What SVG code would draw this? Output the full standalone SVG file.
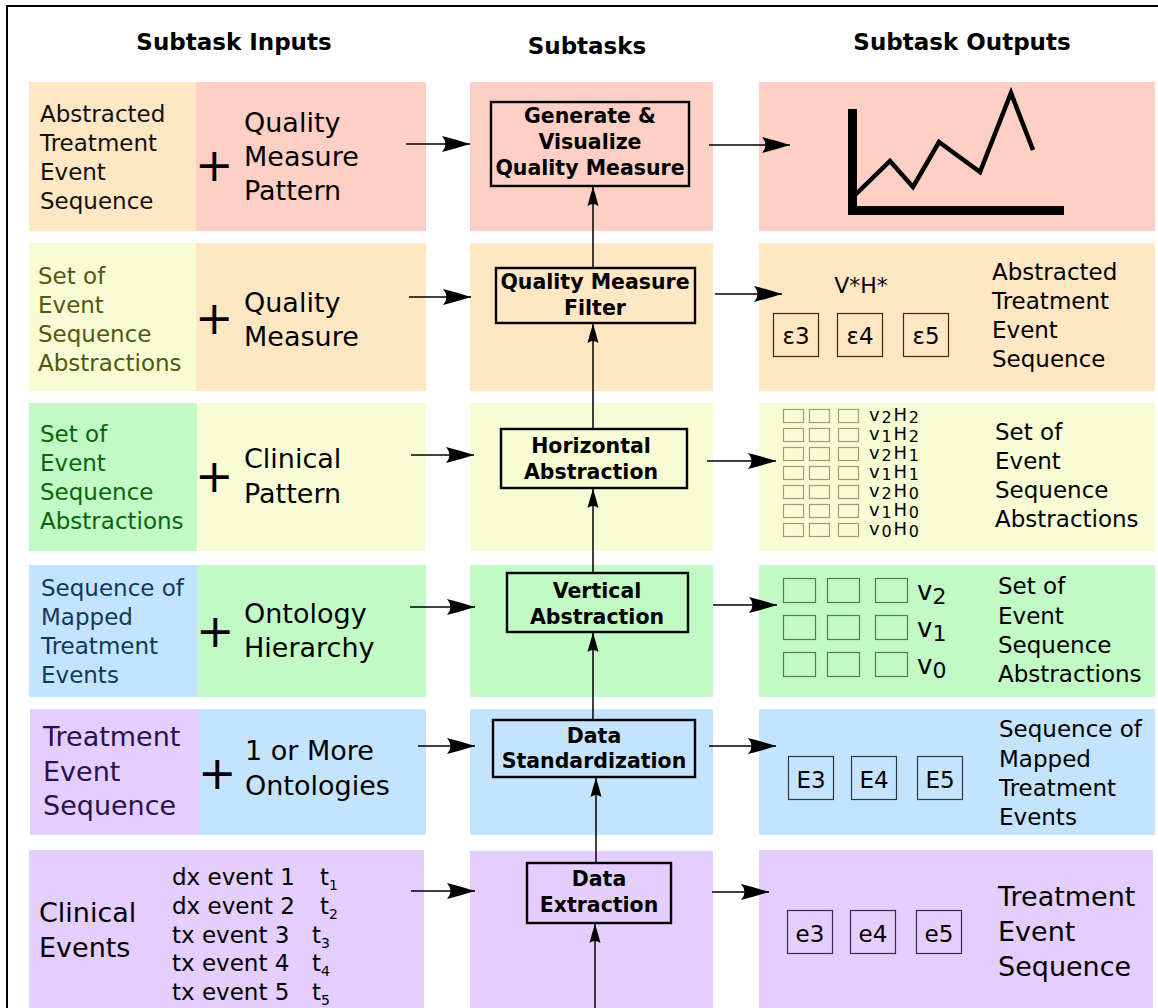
<svg xmlns="http://www.w3.org/2000/svg" width="1158" height="1008" viewBox="0 0 1158 1008">
<style>
text{font-family:"DejaVu Sans","Liberation Sans",sans-serif;}
.hd{font-size:23px;font-weight:bold;text-anchor:middle;}
.t23{font-size:23px;}
.t27{font-size:27px;}
.plus{font-size:46px;}
.st{font-size:20.5px;font-weight:bold;text-anchor:middle;}
.sbox{fill:none;stroke:#000;stroke-width:2.4;}
.conn{stroke:#000;stroke-width:1.5;fill:none;}
.salmon{fill:#fecfc4;}
.orange{fill:#ffe7c4;}
.yellow{fill:#f8fcd5;}
.green{fill:#c1fac5;}
.blue{fill:#c4e4fd;}
.purple{fill:#e3cefd;}
.ob{fill:none;stroke-width:1.2;}
.ctr{text-anchor:middle;}
.vh{font-size:18px;}
.vh tspan.s{font-size:16px;}
</style>
<defs>
<marker id="ah" markerUnits="userSpaceOnUse" markerWidth="30" markerHeight="20" viewBox="0 0 30 18" refX="28" refY="9" orient="auto">
<path d="M28,9 Q14,4.5 0,1 Q7,9 0,17 Q14,13.5 28,9 Z" fill="#000"/>
</marker>
<marker id="av" markerUnits="userSpaceOnUse" markerWidth="20" markerHeight="12" viewBox="0 0 20 12" refX="19" refY="6" orient="auto">
<path d="M19,6 Q10,3 0,0.5 Q4,6 0,11.5 Q10,9 19,6 Z" fill="#000"/>
</marker>
</defs>
<rect x="0" y="0" width="1158" height="1008" fill="#fff"/>
<rect x="7" y="6" width="1170" height="1020" fill="none" stroke="#000" stroke-width="2"/>

<g id="headers">
<text class="hd" x="234" y="50">Subtask Inputs</text>
<text class="hd" x="587" y="54">Subtasks</text>
<text class="hd" x="962" y="50">Subtask Outputs</text>
</g>

<!-- Row 1 -->
<g id="input1">
<rect class="orange" x="29" y="82" width="167" height="149"/>
<rect class="salmon" x="196" y="82" width="230" height="149"/>
<text class="t23" fill="#111">
<tspan x="40" y="122">Abstracted</tspan><tspan x="40" y="151">Treatment</tspan><tspan x="40" y="180">Event</tspan><tspan x="40" y="209">Sequence</tspan></text>
<text class="plus" x="195" y="181">+</text>
<text class="t27"><tspan x="244" y="132">Quality</tspan><tspan x="244" y="166">Measure</tspan><tspan x="244" y="200">Pattern</tspan></text>
</g>
<g id="task1">
<rect class="salmon" x="470" y="82" width="243" height="149"/>
<rect class="sbox" x="491" y="102" width="198" height="84"/>
<text class="st"><tspan x="590" y="123">Generate &amp;</tspan><tspan x="590" y="149">Visualize</tspan><tspan x="590" y="175">Quality Measure</tspan></text>
</g>
<g id="output1">
<rect class="salmon" x="759" y="82" width="396" height="149"/>
<path d="M852.5,109 V210.5 H1064" fill="none" stroke="#000" stroke-width="9"/>
<polyline points="853,197 890,161 913,187 939,142 980,172 1011,93 1033,150" fill="none" stroke="#000" stroke-width="4.5"/>
</g>

<!-- Row 2 -->
<g id="input2">
<rect class="yellow" x="29" y="243" width="167" height="148"/>
<rect class="orange" x="196" y="243" width="230" height="148"/>
<text class="t23" fill="#4f5812"><tspan x="38" y="284">Set of</tspan><tspan x="38" y="313">Event</tspan><tspan x="38" y="342">Sequence</tspan><tspan x="38" y="371">Abstractions</tspan></text>
<text class="plus" x="195" y="334">+</text>
<text class="t27"><tspan x="244" y="312">Quality</tspan><tspan x="244" y="346">Measure</tspan></text>
</g>
<g id="task2">
<rect class="orange" x="470" y="243" width="243" height="148"/>
<rect class="sbox" x="496" y="268" width="199" height="55"/>
<text class="st"><tspan x="595" y="289">Quality Measure</tspan><tspan x="595" y="315">Filter</tspan></text>
</g>
<g id="output2">
<rect class="orange" x="759" y="243" width="396" height="148"/>
<text class="ctr" x="861" y="293" font-size="22">V*H*</text>
<g stroke="#3d2c12" class="ob">
<rect x="773.5" y="313.5" width="45" height="43"/>
<rect x="837.5" y="313.5" width="45" height="43"/>
<rect x="903.5" y="313.5" width="45" height="43"/>
</g>
<g class="ctr" font-size="23">
<text x="796" y="344">ε3</text><text x="860" y="344">ε4</text><text x="926" y="344">ε5</text>
</g>
<text class="t23"><tspan x="992" y="280">Abstracted</tspan><tspan x="992" y="309">Treatment</tspan><tspan x="992" y="338">Event</tspan><tspan x="992" y="367">Sequence</tspan></text>
</g>

<!-- Row 3 -->
<g id="input3">
<rect class="green" x="29" y="403" width="168" height="148"/>
<rect class="yellow" x="197" y="403" width="229" height="148"/>
<text class="t23" fill="#0b640b"><tspan x="40" y="442">Set of</tspan><tspan x="40" y="471">Event</tspan><tspan x="40" y="500">Sequence</tspan><tspan x="40" y="529">Abstractions</tspan></text>
<text class="plus" x="195" y="492">+</text>
<text class="t27"><tspan x="244" y="468">Clinical</tspan><tspan x="244" y="503">Pattern</tspan></text>
</g>
<g id="task3">
<rect class="yellow" x="470" y="403" width="243" height="148"/>
<rect class="sbox" x="501" y="429" width="186" height="59"/>
<text class="st"><tspan x="591" y="453">Horizontal</tspan><tspan x="591" y="479">Abstraction</tspan></text>
</g>
<g id="output3">
<rect class="yellow" x="759" y="403" width="396" height="148"/>
<g stroke="#9c9c80" class="ob">
<rect x="783.5" y="409.5" width="20" height="13"/><rect x="809.5" y="409.5" width="20" height="13"/><rect x="838.5" y="409.5" width="20" height="13"/>
<rect x="783.5" y="428.5" width="20" height="13"/><rect x="809.5" y="428.5" width="20" height="13"/><rect x="838.5" y="428.5" width="20" height="13"/>
<rect x="783.5" y="447.5" width="20" height="13"/><rect x="809.5" y="447.5" width="20" height="13"/><rect x="838.5" y="447.5" width="20" height="13"/>
<rect x="783.5" y="466.5" width="20" height="13"/><rect x="809.5" y="466.5" width="20" height="13"/><rect x="838.5" y="466.5" width="20" height="13"/>
<rect x="783.5" y="485.5" width="20" height="13"/><rect x="809.5" y="485.5" width="20" height="13"/><rect x="838.5" y="485.5" width="20" height="13"/>
<rect x="783.5" y="504.5" width="20" height="13"/><rect x="809.5" y="504.5" width="20" height="13"/><rect x="838.5" y="504.5" width="20" height="13"/>
<rect x="783.5" y="523.5" width="20" height="13"/><rect x="809.5" y="523.5" width="20" height="13"/><rect x="838.5" y="523.5" width="20" height="13"/>
</g>
<g class="vh">
<text x="869" y="421" textLength="50" lengthAdjust="spacing">v<tspan class="s" dy="2">2</tspan><tspan dy="-2">H</tspan><tspan class="s" dy="2">2</tspan></text>
<text x="869" y="440" textLength="50" lengthAdjust="spacing">v<tspan class="s" dy="2">1</tspan><tspan dy="-2">H</tspan><tspan class="s" dy="2">2</tspan></text>
<text x="869" y="459" textLength="50" lengthAdjust="spacing">v<tspan class="s" dy="2">2</tspan><tspan dy="-2">H</tspan><tspan class="s" dy="2">1</tspan></text>
<text x="869" y="478" textLength="50" lengthAdjust="spacing">v<tspan class="s" dy="2">1</tspan><tspan dy="-2">H</tspan><tspan class="s" dy="2">1</tspan></text>
<text x="869" y="497" textLength="50" lengthAdjust="spacing">v<tspan class="s" dy="2">2</tspan><tspan dy="-2">H</tspan><tspan class="s" dy="2">0</tspan></text>
<text x="869" y="516" textLength="50" lengthAdjust="spacing">v<tspan class="s" dy="2">1</tspan><tspan dy="-2">H</tspan><tspan class="s" dy="2">0</tspan></text>
<text x="869" y="535" textLength="50" lengthAdjust="spacing">v<tspan class="s" dy="2">0</tspan><tspan dy="-2">H</tspan><tspan class="s" dy="2">0</tspan></text>
</g>
<text class="t23"><tspan x="995" y="440">Set of</tspan><tspan x="995" y="469">Event</tspan><tspan x="995" y="498">Sequence</tspan><tspan x="995" y="527">Abstractions</tspan></text>
</g>

<!-- Row 4 -->
<g id="input4">
<rect class="blue" x="29" y="565" width="169" height="132"/>
<rect class="green" x="198" y="565" width="228" height="132"/>
<text class="t23" fill="#0e3a5c"><tspan x="41" y="596">Sequence of</tspan><tspan x="41" y="625">Mapped</tspan><tspan x="41" y="654">Treatment</tspan><tspan x="41" y="683">Events</tspan></text>
<text class="plus" x="196" y="647">+</text>
<text class="t27"><tspan x="244" y="623">Ontology</tspan><tspan x="244" y="657">Hierarchy</tspan></text>
</g>
<g id="task4">
<rect class="green" x="470" y="565" width="243" height="132"/>
<rect class="sbox" x="507" y="573" width="181" height="59"/>
<text class="st"><tspan x="597" y="598">Vertical</tspan><tspan x="597" y="624">Abstraction</tspan></text>
</g>
<g id="output4">
<rect class="green" x="759" y="565" width="396" height="132"/>
<g stroke="#4f7f4f" class="ob">
<rect x="783.5" y="578.5" width="32" height="24"/><rect x="827.5" y="578.5" width="32" height="24"/><rect x="875.5" y="578.5" width="32" height="24"/>
<rect x="783.5" y="615.5" width="32" height="24"/><rect x="827.5" y="615.5" width="32" height="24"/><rect x="875.5" y="615.5" width="32" height="24"/>
<rect x="783.5" y="652.5" width="32" height="24"/><rect x="827.5" y="652.5" width="32" height="24"/><rect x="875.5" y="652.5" width="32" height="24"/>
</g>
<g font-size="26">
<text x="917" y="600">v<tspan font-size="22" dy="4">2</tspan></text>
<text x="917" y="637">v<tspan font-size="22" dy="4">1</tspan></text>
<text x="917" y="674">v<tspan font-size="22" dy="4">0</tspan></text>
</g>
<text class="t23"><tspan x="998" y="594">Set of</tspan><tspan x="998" y="624">Event</tspan><tspan x="998" y="653">Sequence</tspan><tspan x="998" y="682">Abstractions</tspan></text>
</g>

<!-- Row 5 -->
<g id="input5">
<rect class="purple" x="30" y="709" width="170" height="126"/>
<rect class="blue" x="200" y="709" width="226" height="126"/>
<text class="t27" fill="#2c0f4e"><tspan x="43" y="746">Treatment</tspan><tspan x="43" y="781">Event</tspan><tspan x="43" y="815">Sequence</tspan></text>
<text class="plus" x="198" y="789">+</text>
<text class="t27"><tspan x="245" y="760">1 or More</tspan><tspan x="245" y="795">Ontologies</tspan></text>
</g>
<g id="task5">
<rect class="blue" x="470" y="709" width="243" height="126"/>
<rect class="sbox" x="493" y="720" width="202" height="57"/>
<text class="st"><tspan x="594" y="743">Data</tspan><tspan x="594" y="768">Standardization</tspan></text>
</g>
<g id="output5">
<rect class="blue" x="759" y="709" width="396" height="126"/>
<g stroke="#2b3a4a" class="ob">
<rect x="788.5" y="756.5" width="45" height="43"/><rect x="851.5" y="756.5" width="45" height="43"/><rect x="917.5" y="756.5" width="45" height="43"/>
</g>
<g class="ctr" font-size="23">
<text x="811" y="788">E3</text><text x="874" y="788">E4</text><text x="940" y="788">E5</text>
</g>
<text class="t23"><tspan x="999" y="737">Sequence of</tspan><tspan x="999" y="767">Mapped</tspan><tspan x="999" y="796">Treatment</tspan><tspan x="999" y="825">Events</tspan></text>
</g>

<!-- Row 6 -->
<g id="input6">
<rect class="purple" x="29" y="850" width="395" height="170"/>
<text class="t27"><tspan x="39" y="922">Clinical</tspan><tspan x="39" y="957">Events</tspan></text>
<g class="t23">
<text x="172" y="885">dx event 1</text><text x="320" y="885">t<tspan font-size="14" dy="5">1</tspan></text>
<text x="172" y="914">dx event 2</text><text x="320" y="914">t<tspan font-size="14" dy="5">2</tspan></text>
<text x="172" y="943">tx event 3</text><text x="312" y="943">t<tspan font-size="14" dy="5">3</tspan></text>
<text x="172" y="971">tx event 4</text><text x="312" y="971">t<tspan font-size="14" dy="5">4</tspan></text>
<text x="172" y="1000">tx event 5</text><text x="312" y="1000">t<tspan font-size="14" dy="5">5</tspan></text>
</g>
</g>
<g id="task6">
<rect class="purple" x="470" y="851" width="243" height="170"/>
<rect class="sbox" x="527" y="863" width="144" height="60"/>
<text class="st"><tspan x="599" y="886">Data</tspan><tspan x="599" y="912">Extraction</tspan></text>
</g>
<g id="output6">
<rect class="purple" x="759" y="850" width="394" height="170"/>
<g stroke="#3a2a4c" class="ob">
<rect x="787.5" y="910.5" width="45" height="43"/><rect x="850.5" y="910.5" width="45" height="43"/><rect x="916.5" y="910.5" width="45" height="43"/>
</g>
<g class="ctr" font-size="23">
<text x="810" y="942">e3</text><text x="873" y="942">e4</text><text x="939" y="942">e5</text>
</g>
<text class="t27"><tspan x="998" y="906">Treatment</tspan><tspan x="998" y="941">Event</tspan><tspan x="998" y="976">Sequence</tspan></text>
</g>

<g id="connectors">
<line class="conn" x1="406" y1="144" x2="470" y2="144" marker-end="url(#ah)"/>
<line class="conn" x1="709" y1="145" x2="790" y2="145" marker-end="url(#ah)"/>
<line class="conn" x1="409" y1="297" x2="471" y2="297" marker-end="url(#ah)"/>
<line class="conn" x1="715" y1="294" x2="782" y2="294" marker-end="url(#ah)"/>
<line class="conn" x1="411" y1="455" x2="474" y2="455" marker-end="url(#ah)"/>
<line class="conn" x1="707" y1="461" x2="776" y2="461" marker-end="url(#ah)"/>
<line class="conn" x1="410" y1="607" x2="475" y2="607" marker-end="url(#ah)"/>
<line class="conn" x1="713" y1="605" x2="777" y2="605" marker-end="url(#ah)"/>
<line class="conn" x1="418" y1="746" x2="475" y2="746" marker-end="url(#ah)"/>
<line class="conn" x1="709" y1="746" x2="776" y2="746" marker-end="url(#ah)"/>
<line class="conn" x1="411" y1="891" x2="475" y2="891" marker-end="url(#ah)"/>
<line class="conn" x1="712" y1="892" x2="769" y2="892" marker-end="url(#ah)"/>
<line class="conn" x1="593" y1="268" x2="593" y2="187" marker-end="url(#av)"/>
<line class="conn" x1="593" y1="429" x2="593" y2="324" marker-end="url(#av)"/>
<line class="conn" x1="593" y1="573" x2="593" y2="489" marker-end="url(#av)"/>
<line class="conn" x1="593" y1="720" x2="593" y2="633" marker-end="url(#av)"/>
<line class="conn" x1="596" y1="863" x2="596" y2="778" marker-end="url(#av)"/>
<line class="conn" x1="595" y1="1010" x2="595" y2="924" marker-end="url(#av)"/>
</g>
</svg>
